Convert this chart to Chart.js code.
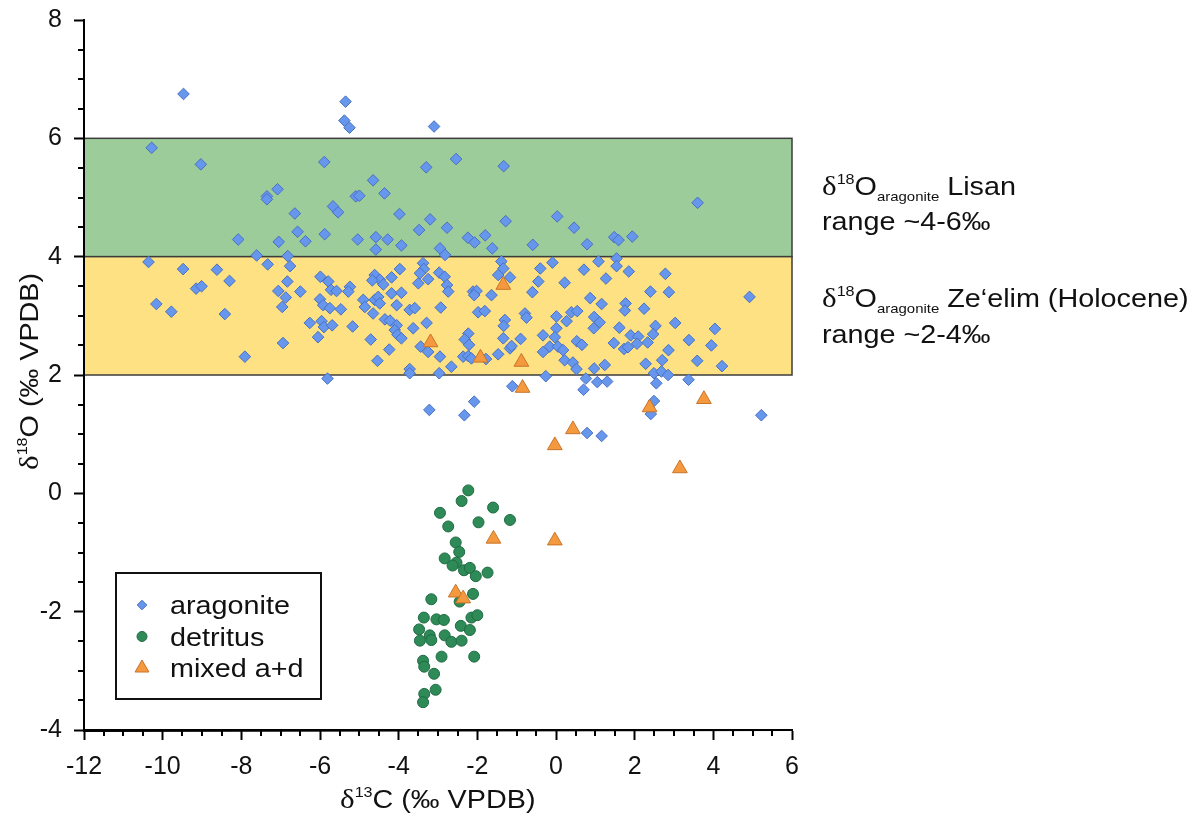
<!DOCTYPE html>
<html>
<head>
<meta charset="utf-8">
<script src="https://cdn.jsdelivr.net/npm/chart.js@4.4.0/dist/chart.umd.min.js"></script>
<style>
html, body { margin: 0; padding: 0; background: #fff; }
#wrap { width: 1200px; height: 817px; }
</style>
</head>
<body>
<div id="wrap"><canvas id="myChart" width="1200" height="817"></canvas></div>
<script>
// d13C / d18O values, [x, y]
const aragonite = [
    [-9.47, 6.75], [-5.35, 6.62], [-5.38, 6.30], [-5.25, 6.18], [-3.10, 6.20],
    [-10.28, 5.84], [-9.03, 5.56], [-5.89, 5.60], [-3.30, 5.51], [-2.54, 5.65], [-1.33, 5.53],
    [-4.65, 5.29], [-7.08, 5.14], [-7.35, 5.02], [-7.35, 4.97], [-4.36, 5.07], [-5.09, 5.02], [-5.00, 5.03],
    [-5.67, 4.85], [-5.54, 4.75], [-6.64, 4.73], [-3.98, 4.72], [-3.20, 4.63], [-6.57, 4.42], [-3.48, 4.45],
    [-8.08, 4.29], [-7.05, 4.25], [-6.37, 4.26], [-5.88, 4.38], [-5.04, 4.29], [-4.58, 4.33], [-4.28, 4.29],
    [-4.58, 4.12], [-3.93, 4.19], [-2.95, 4.14], [-7.61, 4.02], [-6.82, 4.01],
    [3.60, 4.91], [-2.77, 4.49], [-1.28, 4.60], [0.03, 4.68], [0.46, 4.49], [-2.24, 4.32], [-2.07, 4.24],
    [-1.80, 4.36], [-1.62, 4.14], [-2.82, 4.03], [-0.59, 4.20], [0.79, 4.21], [1.48, 4.33], [1.59, 4.28], [1.94, 4.34],
    [-10.36, 3.91], [-9.48, 3.79], [-8.62, 3.78], [-8.30, 3.59], [-9.15, 3.46], [-9.01, 3.50], [-10.16, 3.20],
    [-9.78, 3.07], [-8.42, 3.03], [-7.91, 2.31], [-7.33, 3.87], [-6.76, 3.84], [-6.83, 3.58], [-7.06, 3.42],
    [-6.87, 3.31], [-6.96, 3.15], [-6.94, 2.54],
    [-6.50, 3.41], [-5.99, 3.66], [-5.79, 3.58], [-5.72, 3.44], [-5.58, 3.42], [-5.24, 3.49], [-5.28, 3.41],
    [-6.00, 3.28], [-5.92, 3.18], [-5.75, 3.13], [-5.47, 3.11],
    [-6.26, 2.88], [-5.96, 2.91], [-5.90, 2.81], [-5.69, 2.84], [-6.05, 2.64], [-5.17, 2.82],
    [-4.61, 3.69], [-4.48, 3.61], [-4.39, 3.53], [-4.18, 3.65], [-3.97, 3.79], [-4.67, 3.60],
    [-4.90, 3.27], [-4.86, 3.15], [-4.61, 3.27], [-4.52, 3.32], [-4.48, 3.21], [-4.65, 3.04],
    [-4.18, 3.38], [-3.93, 3.39], [-4.05, 3.18], [-4.35, 2.94], [-4.22, 2.92],
    [-4.05, 2.84], [-4.10, 2.76], [-4.03, 2.68], [-3.93, 2.62], [-4.71, 2.60], [-4.24, 2.43], [-4.54, 2.24],
    [-3.72, 3.10], [-3.59, 3.13], [-3.63, 2.79], [-3.29, 2.88],
    [-3.50, 3.55], [-3.38, 3.89], [-3.36, 3.79], [-3.25, 3.62], [-3.46, 3.72],
    [-3.44, 2.48], [-3.25, 2.39], [-3.72, 2.10], [-3.72, 2.03], [-5.81, 1.94],
    [-2.08, 1.55], [-3.22, 1.41], [-2.33, 1.32], [-1.78, 2.27],
    [-1.39, 3.92], [-1.34, 3.80], [-1.47, 3.69], [-1.17, 3.65],
    [-0.09, 3.90], [-0.40, 3.80], [-0.45, 3.58], [-0.60, 3.40], [0.22, 3.56],
    [-2.97, 3.73], [-2.83, 3.66], [-2.77, 3.52], [-2.74, 3.41],
    [-2.11, 3.41], [-2.02, 3.42], [-2.08, 3.35], [-1.64, 3.35],
    [-2.93, 3.14], [-1.98, 3.06], [-1.81, 3.08], [-1.30, 2.93], [-1.33, 2.83], [-0.79, 3.04], [-0.75, 2.97],
    [0.01, 2.99], [0.27, 2.91], [0.01, 2.79],
    [-2.23, 2.70], [-2.32, 2.60], [-2.21, 2.51], [-1.34, 2.62], [-0.90, 2.61],
    [-0.33, 2.67], [-0.03, 2.64], [-0.16, 2.48], [0.05, 2.48], [0.18, 2.42],
    [-1.17, 2.45], [-1.13, 2.49], [-1.47, 2.35], [-2.36, 2.31], [-2.23, 2.32], [-2.15, 2.28],
    [-2.95, 2.31], [-2.66, 2.14], [-2.97, 2.03], [-0.33, 2.39], [0.22, 2.25], [-0.26, 1.98], [-1.11, 1.81],
    [1.08, 3.92], [1.54, 3.97], [1.54, 3.84], [1.85, 3.75], [0.71, 3.78], [1.27, 3.63], [2.78, 3.71],
    [2.40, 3.41], [2.87, 3.40], [4.92, 3.32], [0.87, 3.30], [1.16, 3.20], [1.77, 3.21], [1.75, 3.09], [2.24, 3.12],
    [0.39, 3.06], [0.54, 3.08], [0.97, 2.98], [1.11, 2.89], [0.96, 2.79], [1.61, 2.80], [2.53, 2.83],
    [3.03, 2.88], [4.04, 2.78], [1.90, 2.67], [2.09, 2.65], [2.06, 2.53], [2.33, 2.55], [2.47, 2.69],
    [1.47, 2.54], [0.53, 2.57], [0.66, 2.51], [1.73, 2.44], [1.83, 2.47], [3.38, 2.59], [3.95, 2.50], [2.86, 2.42],
    [0.43, 2.21], [0.52, 2.10], [0.97, 2.11], [1.24, 2.17], [2.28, 2.19], [2.70, 2.25], [3.59, 2.24], [4.22, 2.15],
    [2.49, 2.03], [2.68, 2.06], [2.85, 2.00], [3.37, 1.92], [0.76, 1.94], [1.05, 1.88], [1.30, 1.89],
    [0.70, 1.75], [2.55, 1.86], [2.49, 1.56], [2.41, 1.34], [5.22, 1.32], [0.79, 1.02], [1.16, 0.97]
];

const detritus = [
    [-2.23, 0.05], [-2.40, -0.13], [-2.95, -0.33], [-1.60, -0.24], [-1.17, -0.45], [-1.97, -0.49],
    [-2.74, -0.56], [-2.55, -0.83], [-2.46, -0.99], [-2.83, -1.10], [-2.53, -1.17], [-2.63, -1.22],
    [-2.34, -1.30], [-2.19, -1.26], [-2.04, -1.40], [-1.74, -1.34], [-2.11, -1.70], [-2.45, -1.83],
    [-3.17, -1.79], [-3.36, -2.10], [-3.04, -2.13], [-2.85, -2.14], [-2.15, -2.10], [-2.00, -2.06],
    [-2.42, -2.24], [-2.19, -2.31], [-3.48, -2.30], [-3.21, -2.40], [-2.83, -2.40], [-3.46, -2.49],
    [-3.17, -2.48], [-2.66, -2.51], [-2.40, -2.49], [-2.91, -2.76], [-2.08, -2.76], [-3.38, -2.83],
    [-3.35, -2.93], [-3.10, -3.05], [-3.06, -3.32], [-3.35, -3.39], [-3.38, -3.53]
];

const mixed = [
    [-3.19, 2.55], [-1.34, 3.52], [-1.92, 2.29], [-0.88, 2.22], [-0.85, 1.78], [-0.03, 0.81], [0.43, 1.08],
    [2.38, 1.45], [3.76, 1.59], [3.15, 0.42], [-1.59, -0.77], [-0.03, -0.80], [-2.55, -1.68], [-2.36, -1.78]
];

const seriesLabels = ['aragonite', 'detritus', 'mixed a+d'];

// axis ticks
const xTicks = [-12, -10, -8, -6, -4, -2, 0, 2, 4, 6];
const yTicks = [-4, -2, 0, 2, 4, 6, 8];
const minorStep = 0.5;

// reference ranges of d18O aragonite
const lisanRange = [4, 6];
const zeelimRange = [2, 4];

const SANS = '"Liberation Sans", Arial, sans-serif';
const SERIF = '"Liberation Serif", "Times New Roman", serif';
const TEXT_SX = 1.15;   // the figure's font runs a bit wide

const toPoints = arr => arr.map(p => ({ x: p[0], y: p[1] }));

// Draws a run of text pieces (for super/subscripts), stretched a little horizontally
function drawRich(ctx, parts, x, y, rotate) {
    ctx.save();
    ctx.translate(x, y);
    if (rotate) ctx.rotate(rotate);
    ctx.scale(TEXT_SX, 1);
    ctx.fillStyle = '#111';
    ctx.textBaseline = 'alphabetic';
    ctx.textAlign = 'left';
    let cx = 0;
    parts.forEach(p => {
        ctx.font = `${p.size || 25}px ${p.family || SANS}`;
        ctx.fillText(p.text, cx, p.dy || 0);
        cx += ctx.measureText(p.text).width;
    });
    ctx.restore();
}

const deltaO = [
    { text: 'δ', family: SERIF, size: 27 },
    { text: '18', size: 14, dy: -11 },
    { text: 'O', size: 25 },
    { text: 'aragonite', size: 13, dy: 6 }
];

const decorPlugin = {
    id: 'decor',
    beforeDatasetsDraw(chart) {
        const { ctx, chartArea: a, scales: { y } } = chart;
        [[lisanRange, '#9ccc9a'], [zeelimRange, '#fde182']].forEach(([range, color]) => {
            const top = y.getPixelForValue(range[1]);
            const bot = y.getPixelForValue(range[0]);
            ctx.save();
            ctx.fillStyle = color;
            ctx.fillRect(a.left, top, a.right - a.left, bot - top);
            ctx.strokeStyle = '#3c3c3c';
            ctx.lineWidth = 1.5;
            ctx.strokeRect(a.left, top, a.right - a.left, bot - top);
            ctx.restore();
        });
    },
    afterDraw(chart) {
        const { ctx, chartArea: a, scales: { x, y } } = chart;
        ctx.save();

        // axis lines again, on top of the bands
        ctx.strokeStyle = '#000';
        ctx.lineWidth = 2;
        ctx.beginPath();
        ctx.moveTo(a.left, a.top - 1);
        ctx.lineTo(a.left, a.bottom + 1);
        ctx.lineTo(a.right + 1, a.bottom);
        ctx.stroke();

        // minor ticks
        ctx.beginPath();
        const nx = Math.round((x.max - x.min) / minorStep);
        for (let i = 0; i <= nx; i++) {
            const v = x.min + i * minorStep;
            if (xTicks.includes(v)) continue;
            const px = Math.round(x.getPixelForValue(v));
            ctx.moveTo(px, a.bottom);
            ctx.lineTo(px, a.bottom + 6);
        }
        const ny = Math.round((y.max - y.min) / minorStep);
        for (let i = 0; i <= ny; i++) {
            const v = y.min + i * minorStep;
            if (yTicks.includes(v)) continue;
            const py = Math.round(y.getPixelForValue(v));
            ctx.moveTo(a.left, py);
            ctx.lineTo(a.left - 6, py);
        }
        ctx.stroke();

        // legend box
        ctx.fillStyle = '#fff';
        ctx.fillRect(116, 573, 205, 126);
        ctx.strokeStyle = '#111';
        ctx.lineWidth = 2;
        ctx.strokeRect(116, 573, 205, 126);
        const legendSizes = [4.8, 5, 8];
        chart.data.datasets.forEach((ds, i) => {
            const cy = 605 + i * 31.5;
            ctx.fillStyle = ds.backgroundColor;
            ctx.strokeStyle = ds.borderColor;
            ctx.lineWidth = 1;
            Chart.helpers.drawPoint(ctx, { pointStyle: ds.pointStyle, radius: legendSizes[i], borderWidth: 1, rotation: 0 }, 142, cy);
            drawRich(ctx, [{ text: ds.label, size: 25 }], 170, cy + 9);
        });

        // range annotations on the right
        drawRich(ctx, deltaO.concat([{ text: ' Lisan' }]), 822, 195);
        drawRich(ctx, [{ text: 'range ~' + lisanRange[0] + '-' + lisanRange[1] + '‰' }], 822, 230);
        drawRich(ctx, deltaO.concat([{ text: ' Ze‘elim (Holocene)' }]), 822, 307);
        drawRich(ctx, [{ text: 'range ~' + zeelimRange[0] + '-' + zeelimRange[1] + '‰' }], 822, 343);

        // axis titles
        drawRich(ctx, [
            { text: 'δ', family: SERIF, size: 27 },
            { text: '13', size: 14, dy: -11 },
            { text: 'C (‰ VPDB)' }
        ], 340, 808);
        drawRich(ctx, [
            { text: 'δ', family: SERIF, size: 27 },
            { text: '18', size: 14, dy: -11 },
            { text: 'O (‰ VPDB)' }
        ], 38, 470, -Math.PI / 2);

        ctx.restore();
    }
};

function axisOptions(ticks, fitKey, fitSize, pad) {
    return {
        type: 'linear',
        min: ticks[0],
        max: ticks[ticks.length - 1],
        afterBuildTicks: scale => { scale.ticks = ticks.map(v => ({ value: v })); },
        afterFit: scale => {
            scale[fitKey] = fitSize;
            // keep the label overhang from pushing the plot area around
            scale.paddingTop = 0;
            scale.paddingBottom = 0;
            scale.paddingLeft = 0;
            scale.paddingRight = 0;
        },
        ticks: {
            color: '#111',
            padding: pad,
            font: { family: SANS, size: 25 },
            callback: v => String(v)
        },
        grid: { drawOnChartArea: false, tickLength: 10, tickWidth: 2, tickColor: '#000' },
        border: { color: '#000', width: 2 }
    };
}

const ctx = document.getElementById('myChart').getContext('2d');
new Chart(ctx, {
    type: 'scatter',
    data: {
        datasets: [
            {
                label: seriesLabels[0], data: toPoints(aragonite), order: 3,
                pointStyle: 'rectRot', pointRadius: 5.8, borderWidth: 1,
                backgroundColor: '#6797ec', borderColor: '#4a70c0'
            },
            {
                label: seriesLabels[1], data: toPoints(detritus), order: 2,
                pointStyle: 'circle', pointRadius: 5.5, borderWidth: 1,
                backgroundColor: '#2e8b57', borderColor: '#206a42'
            },
            {
                label: seriesLabels[2], data: toPoints(mixed), order: 1,
                pointStyle: 'triangle', pointRadius: 8.5, borderWidth: 1,
                backgroundColor: '#f5993f', borderColor: '#c8742a'
            }
        ]
    },
    options: {
        responsive: false,
        animation: false,
        layout: { padding: { left: 0, right: 408, top: 20, bottom: 0 } },
        plugins: { legend: { display: false }, tooltip: { enabled: false } },
        scales: {
            x: axisOptions(xTicks, 'height', 87, 12),
            y: axisOptions(yTicks, 'width', 84, 12)
        }
    },
    plugins: [decorPlugin]
});
</script>
</body>
</html>
